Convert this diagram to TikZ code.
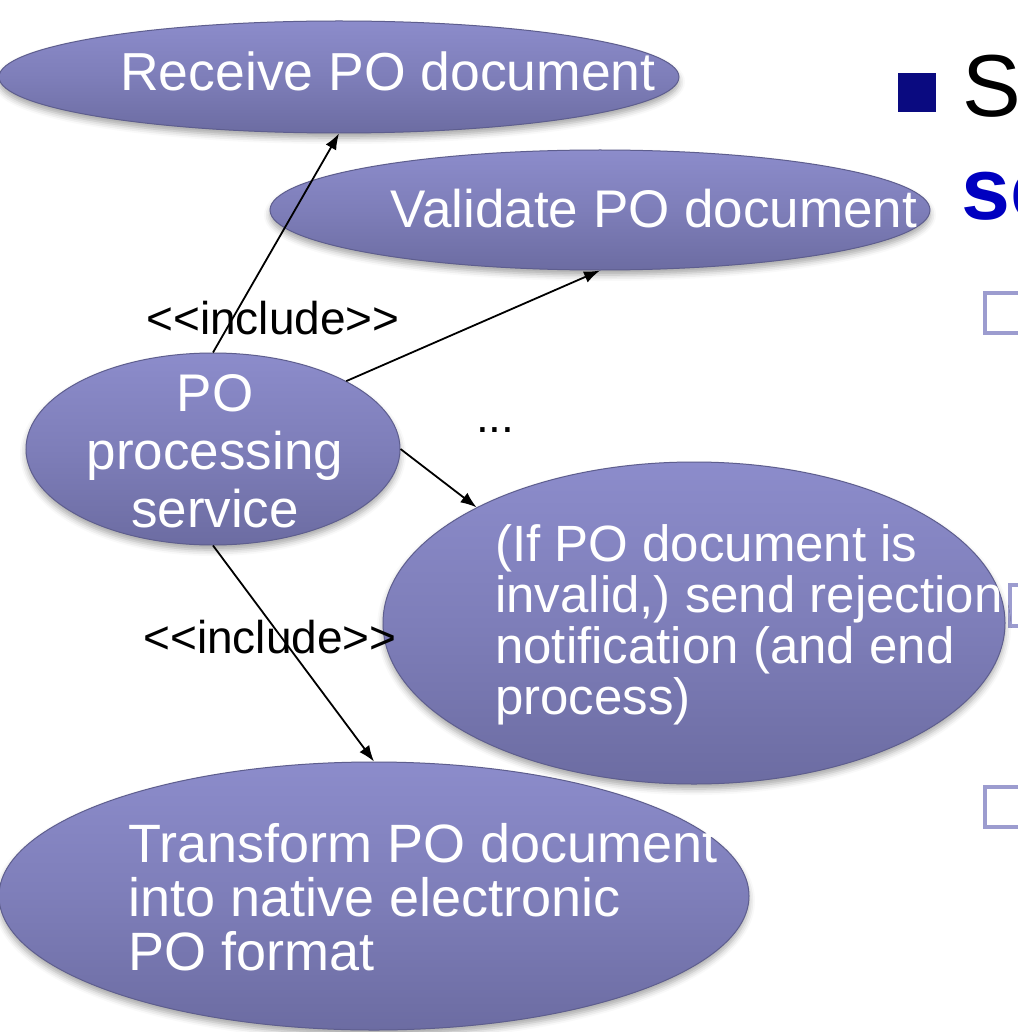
\documentclass[tikz,border=0pt]{standalone}
\usepackage{fontspec}
\setmainfont{Liberation Sans}
\usetikzlibrary{shapes.geometric,shadows.blur,arrows.meta}

\definecolor{uctop}{HTML}{8C8CCB}
\definecolor{ucmid}{HTML}{7E7EB9}
\definecolor{ucbot}{HTML}{6C6CA2}
\definecolor{ucrim}{HTML}{5E5E8E}
\definecolor{bulletnavy}{HTML}{0A0A80}
\definecolor{headblue}{HTML}{0000C0}
\definecolor{boxline}{HTML}{9C9CCF}

\tikzset{
  usecase/.style={ellipse, inner sep=0pt, draw=ucrim, line width=1pt,
    top color=uctop, bottom color=ucbot, middle color=ucmid,
    blur shadow={shadow xshift=0pt, shadow yshift=-5pt,
                 shadow blur radius=6pt, shadow opacity=35}},
  uctext/.style={text=white, inner sep=0pt, font=\fontsize{52}{58}\selectfont},
  inclabel/.style={inner sep=0pt, font=\fontsize{46}{50}\selectfont},
  assoc/.style={line width=1.8pt, -{Latex[length=16pt,width=12pt]}},
  checkbox/.style={draw=boxline, line width=4pt},
}

\begin{document}
\begin{tikzpicture}[x=1pt,y=-1pt]
\useasboundingbox (0,0) rectangle (1017,1032);

% slide text on the right, partly hidden behind the diagram
\fill[bulletnavy] (898,73) rectangle (936,112);
\node[inner sep=0pt, anchor=base west, font=\fontsize{88}{90}\selectfont]
  (head) at (962,117) {S};
\node[inner sep=0pt, anchor=base west, text=headblue,
  font=\fontsize{88}{90}\selectfont\bfseries] (sub) at (961,220) {sc};
\draw[checkbox] (985,293) rectangle (1027,333);
\draw[checkbox] (1010,585) rectangle (1052,626);
\draw[checkbox] (985,787) rectangle (1027,827);

% use cases
\node[usecase, minimum width=680pt, minimum height=112pt] (recv) at (339,77) {};
\node[usecase, minimum width=660pt, minimum height=120pt] (valid) at (600,210) {};
\node[usecase, minimum width=374pt, minimum height=192pt] (po) at (213,449) {};
\node[usecase, minimum width=622pt, minimum height=322pt] (reject) at (694,623) {};
\node[usecase, minimum width=750pt, minimum height=268pt] (trans) at (374,896) {};

\node[uctext, anchor=base, font=\fontsize{53.5}{58}\selectfont] (recvtxt) at (388,91) {Receive PO document};
\node[uctext, anchor=base, font=\fontsize{53}{58}\selectfont] (validtxt) at (654,228) {Validate PO document};
\node[uctext, align=center, font=\fontsize{53}{58}\selectfont] (potxt) at (215,451)
  {PO\\processing\\service};
\node[uctext, align=left, anchor=west, font=\fontsize{51}{51}\selectfont] (rejtxt) at (495,625)
  {(If PO document is\\invalid,) send rejection\\notification (and end\\process)};
\node[uctext, align=left, anchor=west, font=\fontsize{54}{54}\selectfont] (transtxt) at (128,897)
  {Transform PO document\\into native electronic\\PO format};

% include relationships
\draw[assoc] (po.north) -- (recv.south);
\draw[assoc] (po.27) -- (valid.south);
\draw[assoc] (po.east) -- (reject.152);
\draw[assoc] (po.south) -- (trans.north);

\node[inclabel] (inc1) at (273,318) {<{}<include>{}>};
\node[inclabel] (inc2) at (270,637) {<{}<include>{}>};
\node[inclabel, anchor=base west] (more) at (476,432) {...};
\end{tikzpicture}
\end{document}
